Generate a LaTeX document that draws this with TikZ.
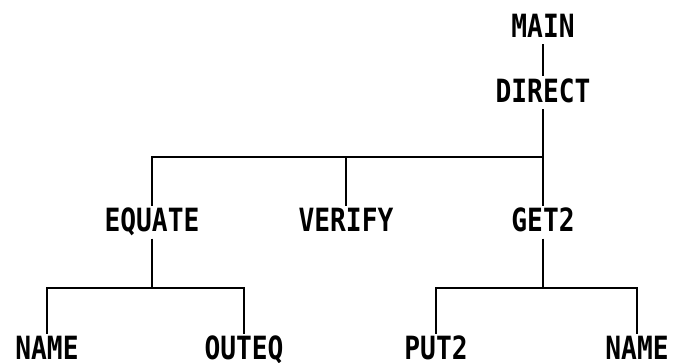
\documentclass[tikz,border=0pt]{standalone}
\usepackage{fontspec}
\usepackage{tikz}
\usetikzlibrary{positioning}
\newfontfamily\printfont[FakeStretch=0.82]{DejaVu Sans Mono Bold}

\begin{document}
\begin{tikzpicture}[
  x=1pt, y=-1pt,
  module/.style={font=\printfont\fontsize{32}{32}\selectfont, anchor=base,
    inner xsep=0pt, inner ysep=2pt, text height=23.5pt, text depth=0pt},
  link/.style={line width=2pt},
  down/.style={link, shorten <=5pt}
]
\useasboundingbox (0,0) rectangle (675,362);

\node[module] (main)    at (543,37)    {MAIN};
\node[module] (direct)  at (543,102)   {DIRECT};
\node[module] (equate)  at (152,231.5) {EQUATE};
\node[module] (verify)  at (346,231.5) {VERIFY};
\node[module] (get2)    at (543,231.5) {GET2};
\node[module] (name1)   at (47,359.5)  {NAME};
\node[module] (outeq)   at (244,359.5) {OUTEQ};
\node[module] (put2)    at (436,359.5) {PUT2};
\node[module] (name2)   at (637,359.5) {NAME};

% bar heights of the two call levels
\coordinate (bar1) at (0,157);
\coordinate (bar2) at (0,287.5);

\draw[down] (main.south) -- (direct.north);

\draw[down] (direct.south) -- (direct.south |- bar1);
\draw[link] (direct.south |- bar1) -| (equate.north);
\draw[link] (direct.south |- bar1) -| (verify.north);
\draw[link] (direct.south |- bar1) -- (get2.north);

\draw[down] (equate.south) -- (equate.south |- bar2);
\draw[link] (equate.south |- bar2) -| (name1.north);
\draw[link] (equate.south |- bar2) -| (outeq.north);

\draw[down] (get2.south) -- (get2.south |- bar2);
\draw[link] (get2.south |- bar2) -| (put2.north);
\draw[link] (get2.south |- bar2) -| (name2.north);
\end{tikzpicture}
\end{document}
